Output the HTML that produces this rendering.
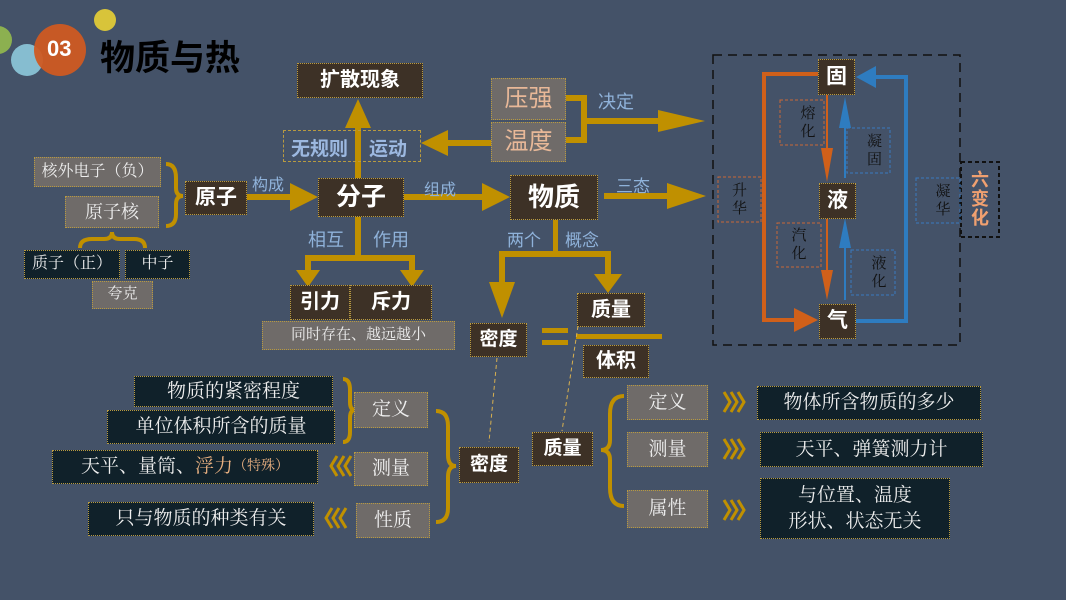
<!DOCTYPE html>
<html><head><meta charset="utf-8">
<style>
*{margin:0;padding:0;box-sizing:border-box}
body{width:1066px;height:600px;background:#445268;position:relative;overflow:hidden;font-family:"Liberation Sans","Noto Sans CJK SC",sans-serif;}
.b{position:absolute;display:flex;align-items:center;justify-content:center;border:1px dotted #b89a40;color:#fff;white-space:nowrap;line-height:1.15;text-align:center}
.d{background:#3d3126;font-weight:bold}
.g{background:#6f6b69;color:#eee;font-family:"Liberation Serif","Noto Serif CJK SC",serif}
.n{background:#10212a;color:#eee;font-family:"Liberation Serif","Noto Serif CJK SC",serif}
.t{position:absolute;white-space:nowrap;color:#8fb2da}
.dash{position:absolute;display:flex;align-items:center;justify-content:center;color:#111;font-size:15px;line-height:1.2;text-align:center;font-family:"Liberation Serif","Noto Serif CJK SC",serif}
svg{position:absolute;left:0;top:0}
</style></head><body>
<svg width="1066" height="600">
<circle cx="-2" cy="40" r="14" fill="#8cb050"/>
<circle cx="27" cy="60" r="16" fill="#86bdd0"/>
<circle cx="60" cy="50" r="26" fill="#cf5a22" fill-opacity="0.95"/>
<circle cx="105" cy="20" r="11" fill="#d8c43a"/>
<g fill="#c09000" stroke="none">
<rect x="355" y="125" width="6" height="54"/>
<polygon points="358,99 345,128 371,128"/>
<rect x="445" y="140" width="46" height="6"/>
<polygon points="421,143 448,130 448,156"/>
<rect x="247" y="194" width="45" height="6"/>
<polygon points="318,197 290,183 290,211"/>
<rect x="404" y="194" width="80" height="6"/>
<polygon points="510,197 482,183 482,211"/>
<rect x="604" y="193" width="66" height="6"/>
<polygon points="706,196 667,183 667,209"/>
<rect x="566" y="95" width="19" height="6"/>
<rect x="566" y="137" width="19" height="6"/>
<rect x="581" y="95" width="6" height="48"/>
<rect x="585" y="118" width="80" height="6"/>
<polygon points="705,121 658,110 658,132"/>
<rect x="355" y="217" width="6" height="44"/>
<rect x="305" y="255" width="110" height="6"/>
<rect x="305" y="255" width="6" height="18"/>
<rect x="409" y="255" width="6" height="18"/>
<polygon points="308,287 296,270 320,270"/>
<polygon points="412,287 400,270 424,270"/>
<rect x="553" y="220" width="5" height="35"/>
<rect x="499" y="251" width="112" height="6"/>
<rect x="499" y="251" width="6" height="33"/>
<rect x="605" y="251" width="6" height="23"/>
<polygon points="502,318 489,282 515,282"/>
<polygon points="608,293 594,274 622,274"/>
<rect x="542" y="328" width="26" height="5"/>
<rect x="542" y="340" width="26" height="5"/>
<rect x="576" y="334" width="86" height="5"/>
</g>
<g fill="none" stroke="#c09000" stroke-width="4">
<path d="M166,164 Q176,164 176,178 L176,188 Q176,196 183,196 Q176,196 176,204 L176,214 Q176,226 166,226"/>
<path d="M80,248 Q80,239 92,239 L104,239 Q112,239 112,232 Q112,239 120,239 L134,239 Q145,239 145,248"/>
<path d="M343,379 Q350,379 350,390 L350,402 Q350,410 355,410 Q350,410 350,418 L350,432 Q350,442 343,442"/>
<path d="M436,411 Q448,411 448,426 L448,455 Q448,466 456,466 Q448,466 448,477 L448,508 Q448,522 436,522"/>
<path d="M624,396 Q610,396 610,414 L610,440 Q610,450 601,450 Q610,450 610,460 L610,488 Q610,506 624,506"/>
</g>
<g fill="none" stroke="#c09000" stroke-width="3">
<path d="M351,456 L345,466 L351,476 M344,456 L338,466 L344,476 M337,456 L331,466 L337,476"/>
<path d="M346,508 L340,518 L346,528 M339,508 L333,518 L339,528 M332,508 L326,518 L332,528"/>
<path d="M724,392 L730,402 L724,412 M731,392 L737,402 L731,412 M738,392 L744,402 L738,412"/>
<path d="M724,439 L730,449 L724,459 M731,439 L737,449 L731,459 M738,439 L744,449 L738,459"/>
<path d="M724,500 L730,510 L724,520 M731,500 L737,510 L731,520 M738,500 L744,510 L738,520"/>
</g>
<g stroke="#d8b050" stroke-width="1" stroke-dasharray="4,3">
<line x1="497" y1="358" x2="489" y2="442"/>
<line x1="578" y1="326" x2="562" y2="431"/>
</g>
<rect x="713" y="55" width="247" height="290" fill="none" stroke="#111" stroke-width="1.5" stroke-dasharray="9,6"/>
<rect x="961" y="162" width="38" height="75" fill="none" stroke="#111" stroke-width="2" stroke-dasharray="4,3"/>
<g fill="none" stroke-width="1" stroke-dasharray="3,2">
<rect x="780" y="100" width="44" height="45" stroke="#c86838"/>
<rect x="718" y="177" width="43" height="45" stroke="#c86838"/>
<rect x="777" y="223" width="44" height="44" stroke="#c86838"/>
<rect x="847" y="128" width="43" height="45" stroke="#3a7ac0"/>
<rect x="851" y="250" width="44" height="45" stroke="#3a7ac0"/>
<rect x="916" y="178" width="44" height="45" stroke="#3a7ac0"/>
</g>
<g fill="none" stroke="#d0601a" stroke-width="4">
<polyline points="818,74 764,74 764,320 796,320"/>
</g>
<polygon points="818,320 794,308 794,332" fill="#d0601a"/>
<g fill="none" stroke="#2e7cc0" stroke-width="4">
<polyline points="856,321 906,321 906,77 872,77"/>
</g>
<polygon points="856,77 876,66 876,88" fill="#2e7cc0"/>
<g stroke-width="2">
<line x1="827" y1="95" x2="827" y2="150" stroke="#d0601a"/>
<line x1="827" y1="219" x2="827" y2="272" stroke="#d0601a"/>
<line x1="845" y1="125" x2="845" y2="178" stroke="#2e7cc0"/>
<line x1="845" y1="246" x2="845" y2="300" stroke="#2e7cc0"/>
</g>
<polygon points="827,182 821,148 833,148" fill="#d0601a"/>
<polygon points="827,300 821,270 833,270" fill="#d0601a"/>
<polygon points="845,97 839,128 851,128" fill="#2e7cc0"/>
<polygon points="845,218 839,248 851,248" fill="#2e7cc0"/>
</svg>

<div class="t" style="left:47px;top:36px;color:#fff;font-weight:bold;font-size:22px;font-family:'Liberation Sans Narrow','Liberation Sans',sans-serif">03</div>
<div class="t" style="left:100px;top:37px;color:#000;font-weight:bold;font-size:35px;font-family:'Noto Sans CJK SC',sans-serif;line-height:1.1">物质与热</div>

<div class="b d" style="left:297px;top:63px;width:126px;height:35px;font-size:20px">扩散现象</div>
<div style="position:absolute;left:283px;top:130px;width:138px;height:32px;border:1px dashed #b89a40"></div>
<div class="t" style="left:291px;top:134px;font-size:19px;font-weight:bold;color:#9cb8e0">无规则</div>
<div class="t" style="left:369px;top:134px;font-size:19px;font-weight:bold;color:#9cb8e0">运动</div>

<div class="b g" style="left:34px;top:157px;width:127px;height:30px;font-size:16px">核外电子（负）</div>
<div class="b g" style="left:65px;top:196px;width:94px;height:32px;font-size:18px">原子核</div>
<div class="b n" style="left:24px;top:250px;width:96px;height:29px;font-size:16px">质子（正）</div>
<div class="b n" style="left:125px;top:250px;width:65px;height:29px;font-size:16px">中子</div>
<div class="b g" style="left:92px;top:281px;width:61px;height:28px;font-size:15px">夸克</div>

<div class="b d" style="left:185px;top:181px;width:62px;height:34px;font-size:21px">原子</div>
<div class="t" style="left:252px;top:171px;font-size:16px">构成</div>
<div class="b d" style="left:318px;top:178px;width:86px;height:39px;font-size:25px">分子</div>
<div class="t" style="left:424px;top:176px;font-size:16px">组成</div>
<div class="b d" style="left:510px;top:175px;width:88px;height:45px;font-size:26px">物质</div>
<div class="t" style="left:616px;top:172px;font-size:17px">三态</div>

<div class="b g" style="left:491px;top:78px;width:75px;height:42px;font-size:24px;color:#e8b898;font-family:'Liberation Sans','Noto Sans CJK SC',sans-serif">压强</div>
<div class="b g" style="left:491px;top:122px;width:75px;height:40px;font-size:24px;color:#e8b898;font-family:'Liberation Sans','Noto Sans CJK SC',sans-serif">温度</div>
<div class="t" style="left:598px;top:88px;font-size:18px">决定</div>

<div class="t" style="left:308px;top:226px;font-size:18px">相互</div>
<div class="t" style="left:373px;top:226px;font-size:18px">作用</div>
<div class="b d" style="left:290px;top:285px;width:60px;height:35px;font-size:20px">引力</div>
<div class="b d" style="left:350px;top:285px;width:82px;height:35px;font-size:20px">斥力</div>
<div class="b g" style="left:262px;top:321px;width:193px;height:29px;font-size:15px">同时存在、越远越小</div>

<div class="t" style="left:507px;top:226px;font-size:17px">两个</div>
<div class="t" style="left:565px;top:226px;font-size:17px">概念</div>
<div class="b d" style="left:577px;top:293px;width:68px;height:34px;font-size:20px">质量</div>
<div class="b d" style="left:583px;top:345px;width:66px;height:33px;font-size:20px">体积</div>
<div class="b d" style="left:470px;top:323px;width:57px;height:34px;font-size:19px">密度</div>

<div class="b d" style="left:818px;top:59px;width:37px;height:36px;font-size:21px">固</div>
<div class="b d" style="left:819px;top:183px;width:37px;height:36px;font-size:21px">液</div>
<div class="b d" style="left:819px;top:304px;width:37px;height:35px;font-size:21px">气</div>
<div class="dash" style="left:780px;top:100px;width:44px;height:45px;padding-left:12px">熔<br>化</div>
<div class="dash" style="left:718px;top:177px;width:43px;height:45px;">升<br>华</div>
<div class="dash" style="left:777px;top:223px;width:44px;height:44px;">汽<br>化</div>
<div class="dash" style="left:847px;top:128px;width:43px;height:45px;padding-left:12px">凝<br>固</div>
<div class="dash" style="left:851px;top:250px;width:44px;height:45px;padding-left:12px">液<br>化</div>
<div class="dash" style="left:916px;top:178px;width:44px;height:45px;padding-left:10px">凝<br>华</div>
<div class="dash" style="left:961px;top:162px;width:38px;height:75px;color:#f0a070;font-weight:bold;font-size:18px;line-height:1.05;font-family:'Liberation Sans','Noto Sans CJK SC',sans-serif">六<br>变<br>化</div>

<div class="b n" style="left:134px;top:376px;width:199px;height:31px;font-size:19px">物质的紧密程度</div>
<div class="b n" style="left:107px;top:410px;width:228px;height:34px;font-size:19px">单位体积所含的质量</div>
<div class="b g" style="left:354px;top:392px;width:74px;height:36px;font-size:19px">定义</div>
<div class="b n" style="left:52px;top:450px;width:266px;height:34px;font-size:19px">天平、量筒、<span style="color:#e8b080">浮力</span><span style="color:#e8b080;font-size:14px">（特殊）</span></div>
<div class="b g" style="left:354px;top:452px;width:74px;height:34px;font-size:19px">测量</div>
<div class="b n" style="left:88px;top:502px;width:226px;height:34px;font-size:19px">只与物质的种类有关</div>
<div class="b g" style="left:356px;top:503px;width:74px;height:35px;font-size:19px">性质</div>
<div class="b d" style="left:459px;top:447px;width:60px;height:36px;font-size:19px">密度</div>

<div class="b d" style="left:532px;top:432px;width:61px;height:34px;font-size:19px">质量</div>
<div class="b g" style="left:627px;top:385px;width:81px;height:35px;font-size:19px">定义</div>
<div class="b n" style="left:757px;top:386px;width:224px;height:34px;font-size:19px">物体所含物质的多少</div>
<div class="b g" style="left:627px;top:432px;width:81px;height:35px;font-size:19px">测量</div>
<div class="b n" style="left:760px;top:432px;width:223px;height:35px;font-size:19px">天平、弹簧测力计</div>
<div class="b g" style="left:627px;top:490px;width:81px;height:38px;font-size:19px">属性</div>
<div class="b n" style="left:760px;top:478px;width:190px;height:61px;font-size:19px;line-height:1.35">与位置、温度<br>形状、状态无关</div>
</body></html>
